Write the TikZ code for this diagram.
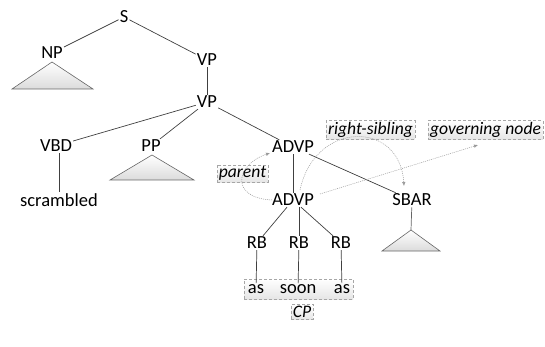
\documentclass[tikz,border=0pt]{standalone}
\usepackage{fontspec}
\setmainfont{Carlito}
\usetikzlibrary{arrows.meta,calc}
\begin{document}
\begin{tikzpicture}[x=1pt,y=-1pt,
  tn/.style={inner sep=1pt,font=\fontsize{18.5}{20}\selectfont},
  edge/.style={draw=black!75,line width=0.7pt},
  tri/.style={draw=black!60,line width=0.6pt,top color=white,bottom color=black!14},
  lbl/.style={draw=black!35,densely dashed,line width=0.4pt,top color=white,bottom color=black!10,inner sep=1.8pt,font=\fontsize{17.6}{20}\selectfont\itshape},
  wordbox/.style={draw=black!35,densely dashed,line width=0.4pt,top color=white,bottom color=black!10,inner sep=0pt},
  arr/.style={draw=black!40,dash pattern=on 1pt off 1pt,line width=0.5pt,-{Latex[length=4pt,width=3.5pt]}}
]
\useasboundingbox (0,0) rectangle (545,347);
% tree nodes
\node[tn] (S) at (124,17) {S};
\node[tn] (NP) at (52,53) {NP};
\node[tn] (VP1) at (207,60) {VP};
\node[tn] (VP2) at (207,102) {VP};
\node[tn] (VBD) at (56,146) {VBD};
\node[tn] (PP) at (151,146) {PP};
\node[tn] (ADVP1) at (293,147) {ADVP};
\node[tn] (scr) at (59,200) {scrambled};
\node[tn] (ADVP2) at (293,200) {ADVP};
\node[tn] (SBAR) at (412,200) {SBAR};
\node[tn] (RB1) at (257,243) {RB};
\node[tn] (RB2) at (299,243) {RB};
\node[tn] (RB3) at (341,243) {RB};
% word box
\node[wordbox,minimum width=109pt,minimum height=20pt] (cpbox) at (298.5,289) {};
\node[tn] (w1) at (256,289) {as};
\node[tn] (w2) at (298,289) {soon};
\node[tn] (w3) at (342,289) {as};
\node[lbl] (CP) at (302,312) {CP};
% labels
\node[lbl] (parent) at (242.5,173.5) {parent};
\node[lbl] (rs) at (370.5,130) {right-sibling};
\node[lbl] (gov) at (485.5,130) {governing node};
% edges
\draw[edge] (S) -- (NP);
\draw[edge] (S) -- (VP1);
\draw[edge] (VP1) -- (VP2);
\draw[edge] (VP2) -- (VBD);
\draw[edge] (VP2) -- (PP);
\draw[edge] (VP2) -- (ADVP1);
\draw[edge] (VBD.south -| scr) -- (scr);
\draw[edge] (ADVP1) -- (ADVP2);
\draw[edge] (ADVP1) -- (SBAR);
\draw[edge] (ADVP2) -- (RB1);
\draw[edge] (ADVP2.south -| RB2) -- (RB2);
\draw[edge] (ADVP2) -- (RB3);
\draw[edge] (RB1) -- (w1);
\draw[edge] (RB2) -- (w2);
\draw[edge] (RB3) -- (w3);
% triangles
\coordinate (tNP) at (52,62);
\coordinate (tPP) at (152,155);
\coordinate (tSB) at (411,230);
\draw[tri] (tNP) -- ++(-40,27) -- ++(81,0) -- cycle;
\draw[tri] (tPP) -- ++(-42,25) -- ++(84,0) -- cycle;
\draw[tri] (tSB) -- ++(-29,21) -- ++(58,0) -- cycle;
\draw[edge,draw=black!60] (SBAR) -- (tSB);
% dashed arrows
\coordinate (govend) at (478,145);
\coordinate (a2w) at (272,200);
\coordinate (a1sw) at (270,153);
\coordinate (a2n) at (300,190);
\coordinate (sbn) at (404,186);
\coordinate (a2e) at (320,194);
\draw[arr] (a2w) .. controls (230,198) and (235,165) .. (a1sw);
\draw[arr] (a2n) .. controls (315,120) and (400,120) .. (sbn);
\draw[arr] (a2e) -- (govend);
\end{tikzpicture}
\end{document}
